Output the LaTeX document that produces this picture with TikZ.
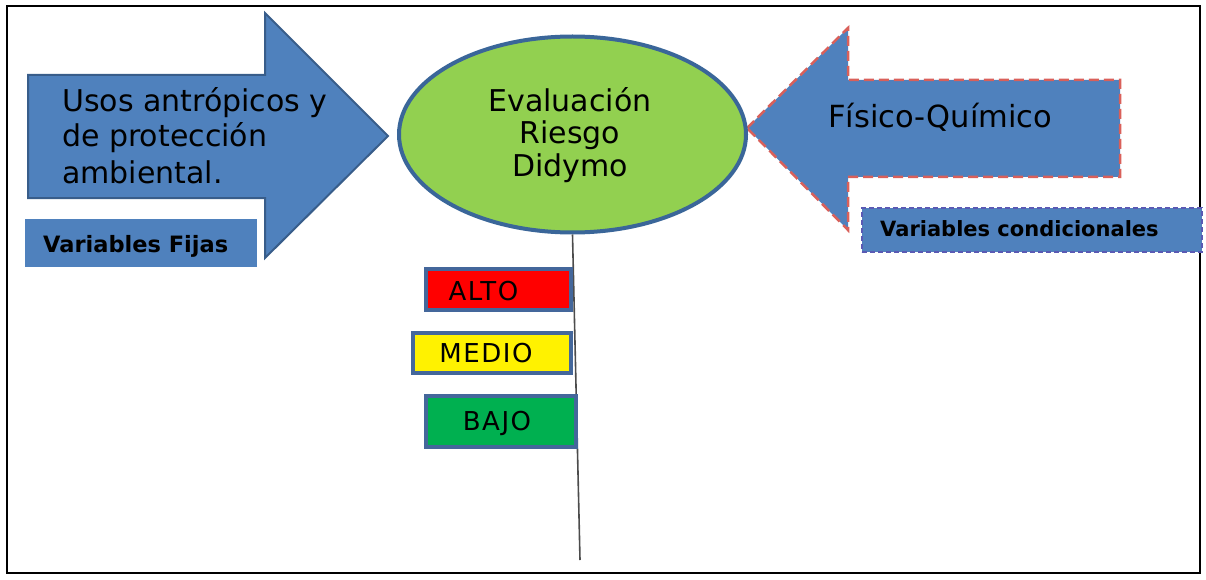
\documentclass[tikz,border=0pt]{standalone}
\usepackage{fontspec}
\setmainfont{DejaVu Sans}
\newfontfamily\lvlfont[LetterSpace=6]{DejaVu Sans}
\usetikzlibrary{shapes.geometric}
\definecolor{arrblue}{HTML}{4F81BD}
\definecolor{arrline}{HTML}{385D8A}
\definecolor{ellgreen}{HTML}{92D050}
\definecolor{ellline}{HTML}{3A6699}
\definecolor{dashred}{HTML}{D9605A}
\definecolor{dashblue}{HTML}{5A5AB4}
\definecolor{lvlgreen}{HTML}{00B050}
\definecolor{lvlline}{HTML}{44679B}
\tikzset{
  bigarrow/.style={fill=arrblue},
  lvlbox/.style={draw=lvlline, line width=4pt, rectangle, inner sep=0pt},
  lvltext/.style={font=\lvlfont\fontsize{26}{29}\selectfont, inner sep=0pt, anchor=base},
  tagbox/.style={fill=arrblue, rectangle, inner sep=0pt},
  tagtext/.style={inner sep=0pt, anchor=base west},
}
\begin{document}
\begin{tikzpicture}[x=1pt,y=-1pt]
\useasboundingbox (0,0) rectangle (1206,580);
\draw[line width=2pt] (7,6) rectangle (1200,573);

% left arrow
\draw[bigarrow, draw=arrline, line width=2pt]
  (28,75) -- (265,75) -- (265,13) -- (388,136) -- (265,258) -- (265,198) -- (28,198) -- cycle;
\node[anchor=base west, align=left, inner sep=0pt,
      font=\fontsize{30}{36}\selectfont] (usos) at (62,183)
  {Usos antrópicos y\\de protección\\ambiental.};

% Variables Fijas
\node[tagbox, minimum width=232pt, minimum height=48pt] (fijasbox) at (141,243) {};
\node[tagtext, font=\bfseries\fontsize{22.5}{26}\selectfont] (fijas) at (43,252) {Variables Fijas};

% right arrow
\draw[bigarrow, draw=dashred, line width=2.5pt, dash pattern=on 10pt off 5pt]
  (747,128) -- (848,28) -- (848,80) -- (1120,80) -- (1120,177) -- (848,177) -- (848,230) -- cycle;
\node[anchor=base west, inner sep=0pt, font=\fontsize{30.5}{34}\selectfont] (fq) at (828,128) {Físico-Químico};

% Variables condicionales
\node[tagbox, draw=dashblue, line width=1.5pt, dash pattern=on 5pt off 3pt,
      minimum width=340pt, minimum height=44pt] (condbox) at (1032,230) {};
\node[tagtext, font=\bfseries\fontsize{21}{25}\selectfont] (cond) at (880,236) {Variables condicionales};

% central ellipse
\node[ellipse, draw=ellline, line width=4pt, fill=ellgreen,
      minimum width=347pt, minimum height=196pt, inner sep=0pt] (ell) at (572.5,134.5) {};
\node[align=center, inner sep=0pt, anchor=base, font=\fontsize{30}{33}\selectfont] (evtext) at (570,177)
  {Evaluación\\Riesgo\\Didymo};

% vertical line
\coordinate (lineend) at (580,560);
\draw[line width=1.6pt, black!70] (ell.south) -- (lineend);

% level boxes
\node[lvlbox, fill=red, minimum width=145pt, minimum height=41pt] (alto) at (498.5,289.5) {};
\node[lvltext] (altot) at (483.5,300) {ALTO};
\node[lvlbox, fill=yellow, minimum width=158pt, minimum height=40pt] (medio) at (492,353) {};
\node[lvltext] (mediot) at (486,362) {MEDIO};
\node[lvlbox, fill=lvlgreen, minimum width=150pt, minimum height=51pt] (bajo) at (501,421.5) {};
\node[lvltext] (bajot) at (497,430) {BAJO};
\end{tikzpicture}
\end{document}
